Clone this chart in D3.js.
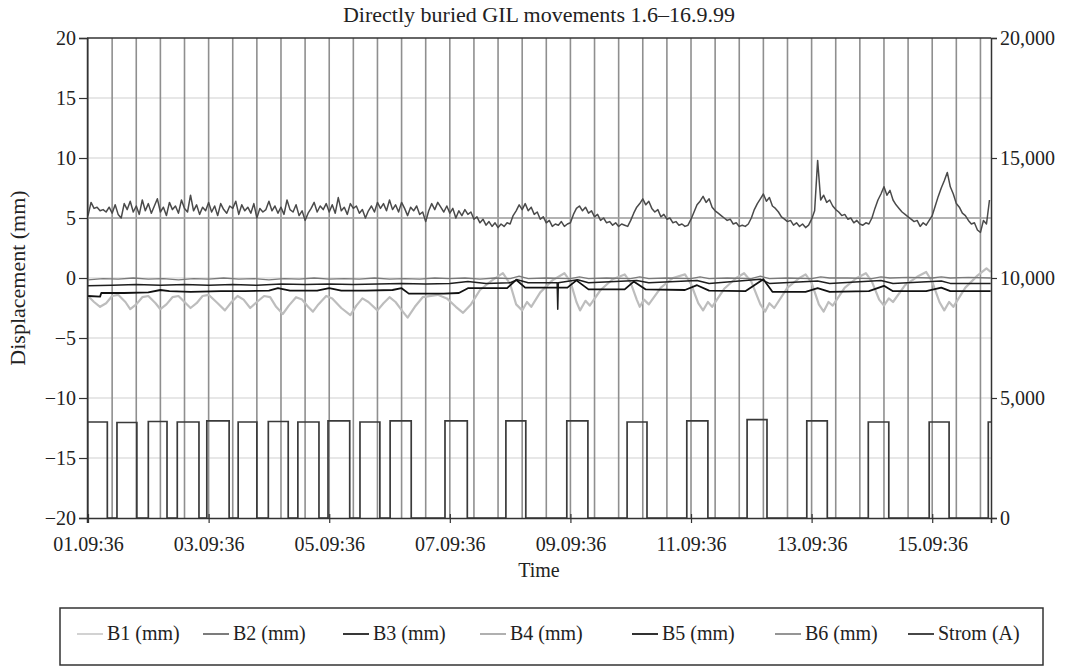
<!DOCTYPE html>
<html>
<head>
<meta charset="utf-8">
<script src="https://cdn.jsdelivr.net/npm/d3@7"></script>
<style>
  body { margin: 0; background: #fff; }
  text { font-family: "Liberation Serif", "Times New Roman", serif; fill: #222; }
</style>
</head>
<body>
<div id="chart"></div>
<script>

// set the dimensions and margins of the graph
const margin = { top: 38, right: 83, bottom: 148, left: 87 },
  width = 1074 - margin.left - margin.right,
  height = 666 - margin.top - margin.bottom;

// x values are days of the month (01.09 = day 1)
const xTickDays = [1, 3, 5, 7, 9, 11, 13, 15];
const xTickLabels = ["01.09:36", "03.09:36", "05.09:36", "07.09:36", "09.09:36", "11.09:36", "13.09:36", "15.09:36"];
const leftTicks = [-20, -15, -10, -5, 0, 5, 10, 15, 20];
const rightTicks = [0, 5000, 10000, 15000, 20000];

// B2 (mm) - the noisy one around 5, sampled every 0.05 day from day 1
const b2Start = 1.0, b2Step = 0.05;
const b2Vals = [
  5.2, 6.3, 5.8, 5.9, 5.6, 5.7, 5.5, 5.9, 5.4, 6.1, 5.3, 5.0, 6.2, 5.7, 6.4, 5.5, 6.0, 5.3, 6.5, 5.6,
  6.2, 5.4, 6.0, 6.6, 5.5, 5.9, 5.2, 6.3, 5.7, 6.0, 5.4, 6.5, 5.8, 5.5, 6.9, 5.6, 6.1, 5.3, 5.9, 5.6,
  6.3, 5.5, 6.0, 5.2, 6.2, 5.7, 5.4, 6.0, 5.8, 6.4, 5.3, 6.1, 5.6, 5.9, 5.4, 6.2, 5.0, 5.8, 5.5, 5.7,
  6.4, 5.6, 6.0, 5.4, 5.9, 5.3, 6.5, 5.7, 5.5, 6.1, 5.2, 5.6, 4.8, 5.4, 5.8, 6.3, 5.5, 6.0, 5.7, 6.2,
  5.5, 6.1, 5.4, 6.7, 5.6, 5.9, 5.3, 6.2, 5.8, 6.0, 5.4, 5.7, 5.0, 5.6, 6.0, 5.5, 6.3, 5.8, 6.2, 5.6,
  6.5, 5.7, 6.1, 5.5, 6.3, 5.8, 5.2, 5.9, 5.6, 6.0, 5.3, 5.5, 4.7, 5.6, 6.2, 5.7, 6.3, 5.9, 5.5, 6.0,
  5.4, 5.8, 5.0, 5.6, 5.2, 5.7, 5.3, 5.5, 4.9, 5.1, 4.6, 4.9, 4.4, 4.7, 4.3, 4.6, 4.2, 4.5, 4.3, 4.6,
  4.5, 5.2, 5.6, 6.1, 5.7, 6.2, 5.6, 5.9, 5.3, 5.5, 4.9, 5.1, 4.6, 4.8, 4.3, 4.5, 4.4, 4.7, 4.3, 4.5,
  4.6, 5.3, 5.8, 6.0, 5.6, 5.9, 5.4, 5.6, 5.1, 5.3, 4.8, 5.0, 4.6, 4.7, 4.4, 4.6, 4.3, 4.5, 4.4, 4.3,
  4.8, 5.4, 5.9, 6.2, 6.6, 6.1, 6.4, 5.8, 5.5, 5.7, 5.1, 5.3, 4.9, 5.0, 4.6, 4.7, 4.4, 4.5, 4.3, 4.4,
  4.9, 5.5, 6.1, 6.4, 6.8, 6.3, 6.6, 5.9, 5.6, 5.4, 5.2, 5.0, 4.8, 4.9, 4.5, 4.6, 4.3, 4.4, 4.3, 4.5,
  5.0, 5.7, 6.2, 6.6, 7.0, 6.4, 6.7, 6.0, 5.8, 5.5, 5.1, 4.9, 4.7, 4.8, 4.4, 4.6, 4.3, 4.5, 4.2, 4.4,
  4.9, 5.6, 9.8, 6.5, 6.9, 6.3, 6.5, 6.0, 5.7, 5.5, 5.2, 5.3, 4.9, 5.0, 4.6, 4.8, 4.5, 4.4, 4.6, 4.5,
  5.0, 5.8, 6.5, 7.0, 7.6, 6.9, 7.3, 6.5, 6.1, 5.8, 5.5, 5.3, 5.1, 4.9, 4.7, 4.8, 4.3, 4.6, 4.4, 4.8,
  5.2, 6.0, 6.8, 7.5, 8.1, 8.8, 7.6, 7.0, 6.2, 5.9, 5.4, 5.2, 4.8, 4.5, 4.6, 4.0, 3.8, 4.8, 4.5, 6.5
];

// B1 (mm) [day, mm]
const b1 = [
  [1.00, -1.5], [1.10, -2.0], [1.20, -2.4], [1.30, -2.1], [1.40, -1.5], [1.50, -1.4], [1.62, -2.0], [1.70, -2.6],
  [1.80, -2.2], [1.90, -1.6], [2.00, -1.5], [2.12, -2.1], [2.20, -2.6], [2.30, -2.2], [2.40, -1.6], [2.50, -1.5],
  [2.60, -2.0], [2.70, -2.5], [2.80, -2.1], [2.90, -1.5], [3.00, -1.4], [3.15, -2.1], [3.27, -2.7], [3.38, -2.0],
  [3.48, -1.5], [3.58, -1.8], [3.69, -2.5], [3.80, -2.0], [3.92, -1.5], [4.02, -1.6], [4.12, -2.4], [4.23, -3.0],
  [4.33, -2.3], [4.45, -1.6], [4.55, -1.8], [4.65, -2.4], [4.73, -2.8], [4.82, -2.2], [4.95, -1.5], [5.05, -1.7],
  [5.20, -2.5], [5.35, -3.1], [5.45, -2.3], [5.55, -1.7], [5.65, -2.0], [5.80, -2.7], [5.90, -2.1], [6.00, -1.6],
  [6.10, -2.0], [6.22, -2.8], [6.30, -3.3], [6.42, -2.4], [6.55, -1.6], [6.80, -1.4], [6.95, -1.7], [7.10, -2.4],
  [7.22, -2.9], [7.35, -2.2], [7.50, -1.0], [7.70, -0.2], [7.88, 0.4], [8.00, -0.5], [8.10, -2.2], [8.20, -2.7],
  [8.28, -2.0], [8.35, -2.4], [8.50, -1.2], [8.70, -0.2], [8.90, 0.4], [9.00, -0.3], [9.10, -2.0], [9.16, -2.7],
  [9.25, -1.9], [9.32, -2.3], [9.50, -1.0], [9.70, -0.1], [9.90, 0.3], [10.00, -0.4], [10.10, -1.8], [10.15, -2.4],
  [10.22, -1.8], [10.30, -2.2], [10.50, -0.8], [10.70, 0.0], [10.90, 0.3], [11.00, -0.5], [11.12, -2.1], [11.20, -2.7],
  [11.28, -2.0], [11.35, -2.4], [11.55, -0.9], [11.75, 0.0], [11.88, 0.4], [12.00, -0.3], [12.15, -2.2], [12.23, -2.8],
  [12.30, -2.1], [12.38, -2.5], [12.60, -0.8], [12.80, 0.0], [12.90, 0.3], [13.00, -0.4], [13.12, -2.2], [13.20, -2.8],
  [13.28, -2.0], [13.35, -2.3], [13.55, -0.8], [13.75, 0.0], [13.90, 0.4], [14.00, -0.3], [14.12, -1.8], [14.20, -2.3],
  [14.28, -1.7], [14.35, -2.0], [14.55, -0.6], [14.75, 0.1], [14.90, 0.5], [15.00, -0.3], [15.12, -2.0], [15.20, -2.7],
  [15.28, -2.0], [15.35, -2.4], [15.55, -0.8], [15.75, 0.2], [15.90, 0.8], [15.97, 0.5]
];

// B3 (mm)
const b3 = [
  [1.0, -0.65], [1.4, -0.6], [1.8, -0.55], [2.2, -0.6], [2.6, -0.55], [3.0, -0.6], [3.4, -0.55], [3.8, -0.6],
  [4.2, -0.5], [4.6, -0.55], [5.0, -0.5], [5.4, -0.55], [5.8, -0.5], [6.2, -0.45], [6.6, -0.5], [7.0, -0.45],
  [7.3, -0.3], [7.6, -0.45], [8.0, -0.4], [8.12, -0.15], [8.3, -0.4], [8.78, -0.4], [8.79, -2.6], [8.8, -0.4],
  [9.12, -0.15], [9.3, -0.4], [10.1, -0.2], [10.3, -0.4], [11.1, -0.2], [11.3, -0.45], [12.15, -0.1], [12.3, -0.45],
  [13.1, -0.25], [13.3, -0.45], [14.15, -0.2], [14.35, -0.45], [15.15, -0.25], [15.3, -0.45], [15.97, -0.45]
];

// B4 (mm)
const b4 = [[1.0, 5.0], [4.0, 5.0], [8.0, 5.0], [12.0, 5.0], [15.97, 5.0]];

// B5 (mm)
const b5 = [
  [1.00, -1.50], [1.20, -1.55], [1.22, -1.25], [1.60, -1.25], [2.00, -1.20], [2.20, -1.00], [2.35, -1.10], [2.70, -1.15],
  [3.20, -1.10], [3.60, -1.10], [4.00, -1.05], [4.15, -0.85], [4.35, -1.05], [4.80, -1.05], [5.00, -0.85], [5.20, -1.05],
  [5.60, -1.05], [6.05, -1.00], [6.20, -0.85], [6.32, -1.30], [6.90, -1.30], [7.15, -1.25], [7.30, -0.85], [7.95, -0.85],
  [8.10, -0.15], [8.25, -0.80], [8.95, -0.80], [9.10, -0.20], [9.30, -0.95], [9.90, -0.95], [10.05, -0.30], [10.25, -0.95],
  [10.90, -1.00], [11.10, -0.60], [11.30, -1.05], [11.90, -1.10], [12.20, -0.10], [12.35, -1.15], [12.90, -1.15], [13.10, -0.85],
  [13.30, -1.15], [13.95, -1.10], [14.20, -0.65], [14.35, -1.10], [14.90, -1.10], [15.15, -0.80], [15.30, -1.10], [15.97, -1.10]
];

// B6 (mm)
const b6 = [
  [1.0, -0.15], [1.25, -0.05], [1.5, -0.1], [1.75, 0.0], [2.0, -0.1], [2.25, -0.05], [2.5, -0.15], [2.75, -0.05],
  [3.0, -0.1], [3.25, 0.0], [3.5, -0.1], [3.75, -0.05], [4.0, -0.15], [4.25, -0.05], [4.5, -0.1], [4.75, 0.0],
  [5.0, -0.1], [5.25, -0.05], [5.5, -0.1], [5.75, 0.0], [6.0, -0.1], [6.25, -0.05], [6.5, -0.1], [6.75, 0.0],
  [7.0, -0.05], [7.25, 0.0], [7.5, -0.1], [7.75, 0.0], [8.0, -0.05], [8.15, 0.15], [8.3, -0.05], [8.6, 0.0],
  [9.0, -0.05], [9.15, 0.1], [9.3, -0.05], [9.6, 0.0], [10.0, -0.05], [10.15, 0.1], [10.3, -0.05], [10.6, 0.0],
  [11.0, -0.05], [11.15, 0.1], [11.3, -0.05], [11.6, 0.0], [12.0, -0.05], [12.15, 0.15], [12.3, -0.05], [12.6, 0.0],
  [13.0, -0.05], [13.15, 0.1], [13.3, 0.0], [13.6, 0.0], [14.0, -0.05], [14.15, 0.1], [14.3, 0.0], [14.6, 0.05],
  [15.0, 0.0], [15.15, 0.1], [15.3, 0.0], [15.6, 0.05], [15.97, 0.0]
];

// Strom (A): current pulses, switched on / off (days) and level
const stromOn = [0.99, 1.48, 2.00, 2.48, 2.97, 3.49, 3.99, 4.48, 4.98, 5.51, 6.01, 6.92, 7.93, 8.94, 9.94, 10.93, 11.93, 12.92, 13.94, 14.95, 15.93];
const stromOff = [1.32, 1.81, 2.31, 2.84, 3.34, 3.80, 4.32, 4.83, 5.34, 5.84, 6.36, 7.29, 8.26, 9.29, 10.27, 11.28, 12.26, 13.26, 14.28, 15.28, 16.20];
const stromLevel = [4000, 3980, 4020, 4000, 4050, 4000, 4020, 4000, 4050, 4000, 4050, 4050, 4050, 4050, 4000, 4050, 4100, 4050, 4000, 4000, 4000];

const legendNames = ["B1 (mm)", "B2 (mm)", "B3 (mm)", "B4 (mm)", "B5 (mm)", "B6 (mm)", "Strom (A)"];
const legendColors = ["#cdcdcd", "#6e6e6e", "#222", "#a8a8a8", "#1a1a1a", "#8a8a8a", "#333"];

// append the svg object to the body of the page
var svg = d3.select("#chart")
  .append("svg")
  .attr("width", width + margin.left + margin.right)
  .attr("height", height + margin.top + margin.bottom)
  .append("g")
  .attr("transform", "translate(" + margin.left + "," + margin.top + ")");

const x = d3.scaleLinear().domain([0.983, 15.975]).range([0, width]);
const y = d3.scaleLinear().domain([-20, 20]).range([height, 0]);
const y2 = d3.scaleLinear().domain([0, 20000]).range([height, 0]);

svg.append("clipPath").attr("id", "clip")
  .append("rect").attr("width", width).attr("height", height + 1);

// horizontal grid
svg.append("g")
  .selectAll("line")
  .data(leftTicks.slice(1, -1))
  .join("line")
  .attr("x1", 0).attr("x2", width)
  .attr("y1", d => y(d)).attr("y2", d => y(d))
  .attr("stroke", "#cfcfcf")
  .attr("stroke-width", 1.2);

// vertical grid every 0.4 day
svg.append("g")
  .selectAll("line")
  .data(d3.range(1, 15.9, 0.4))
  .join("line")
  .attr("x1", d => x(d)).attr("x2", d => x(d))
  .attr("y1", 0).attr("y2", height)
  .attr("stroke", "#8f8f8f")
  .attr("stroke-width", 1.6);

const line = d3.line().x(d => x(d[0])).y(d => y(d[1]));
const plot = svg.append("g").attr("clip-path", "url(#clip)");

function addSeries(data, color, w) {
  plot.append("path")
    .datum(data)
    .attr("fill", "none")
    .attr("stroke", color)
    .attr("stroke-width", w)
    .attr("stroke-linejoin", "round")
    .attr("d", line);
}

addSeries(b1, "#bdbdbd", 2.2);
addSeries(b4, "#a0a0a0", 1.3);
addSeries(b6, "#7a7a7a", 1.3);
addSeries(b3, "#1e1e1e", 1.5);
addSeries(b5, "#111", 1.8);
addSeries(b2Vals.map((v, i) => [b2Start + i * b2Step, v]), "#4a4a4a", 1.5);

// strom pulses on the right axis
var stromPts = [];
stromOn.forEach(function (t, i) {
  stromPts.push([t, 0], [t, stromLevel[i]], [stromOff[i], stromLevel[i]], [stromOff[i], 0]);
});
plot.append("path")
  .datum(stromPts)
  .attr("fill", "none")
  .attr("stroke", "#3a3a3a")
  .attr("stroke-width", 1.7)
  .attr("d", d3.line().x(d => x(d[0])).y(d => y2(d[1])));

// frame on top
svg.append("line")
  .attr("x1", 0).attr("x2", width).attr("y1", 0).attr("y2", 0)
  .attr("stroke", "#333").attr("stroke-width", 1.5);

// axes
const fmtMinus = d => (d < 0 ? "\u2212" + Math.abs(d) : "" + d);
var gl = svg.append("g")
  .call(d3.axisLeft(y).tickValues(leftTicks).tickFormat(fmtMinus).tickSize(8).tickPadding(3));
var gr = svg.append("g")
  .attr("transform", "translate(" + width + ",0)")
  .call(d3.axisRight(y2).tickValues(rightTicks).tickFormat(d3.format(",")).tickSize(6).tickPadding(3));
var gb = svg.append("g")
  .attr("transform", "translate(0," + height + ")")
  .call(d3.axisBottom(x).tickValues(xTickDays).tickFormat((d, i) => xTickLabels[i]).tickSize(5).tickPadding(14));
gb.selectAll(".tick line").attr("y1", -4);

[gl, gr, gb].forEach(function (g) {
  g.select(".domain").attr("stroke", "#333").attr("stroke-width", 1.5);
  g.selectAll(".tick line").attr("stroke", "#333").attr("stroke-width", 1.2);
  g.selectAll("text").style("font-size", "20px").style("font-family", "Liberation Serif").attr("fill", "#222");
});

// titles
svg.append("text")
  .attr("x", width / 2).attr("y", -16)
  .attr("text-anchor", "middle")
  .style("font-size", "22px")
  .text("Directly buried GIL movements 1.6\u201316.9.99");

svg.append("text")
  .attr("x", width / 2).attr("y", height + 59)
  .attr("text-anchor", "middle")
  .style("font-size", "20px")
  .text("Time");

svg.append("text")
  .attr("transform", "rotate(-90)")
  .attr("x", -height / 2).attr("y", -margin.left + 25)
  .attr("text-anchor", "middle")
  .style("font-size", "22px")
  .text("Displacement (mm)");

// legend
var root = d3.select("#chart svg");
root.append("rect")
  .attr("x", 60).attr("y", 608).attr("width", 983).attr("height", 57)
  .attr("fill", "none").attr("stroke", "#333").attr("stroke-width", 1.5);

const legendX = [107, 233, 373, 510, 662, 805, 938];
var leg = root.append("g").selectAll("g")
  .data(legendNames)
  .join("g")
  .attr("transform", (d, i) => "translate(" + legendX[i] + ",640)");
leg.append("line")
  .attr("x1", -30).attr("x2", -4).attr("y1", -6).attr("y2", -6)
  .attr("stroke", (d, i) => legendColors[i])
  .attr("stroke-width", 1.8);
leg.append("text")
  .style("font-size", "20px")
  .text(d => d);

</script>
</body>
</html>
